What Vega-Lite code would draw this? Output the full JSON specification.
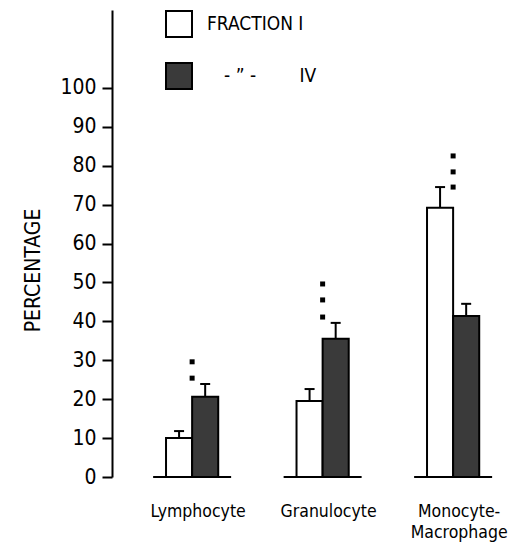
{
  "$schema": "https://vega.github.io/schema/vega-lite/v6.json",
  "width": 400,
  "height": 467,
  "autosize": {"type": "none"},
  "padding": {"left": 112, "top": 10, "right": 4, "bottom": 69},
  "background": "white",
  "config": {
    "view": {"stroke": null},
    "font": "DejaVu Sans Condensed, Liberation Sans Narrow, DejaVu Sans",
    "axis": {"grid": false}
  },
  "datasets": {
    "bars": [
      {"group": "Lymphocyte", "fraction": "I", "value": 10.0, "upper": 11.8},
      {"group": "Lymphocyte", "fraction": "IV", "value": 20.6, "upper": 23.9},
      {"group": "Granulocyte", "fraction": "I", "value": 19.5, "upper": 22.6},
      {"group": "Granulocyte", "fraction": "IV", "value": 35.5, "upper": 39.6},
      {"group": "Monocyte-Macrophage", "fraction": "I", "value": 69.2, "upper": 74.5},
      {"group": "Monocyte-Macrophage", "fraction": "IV", "value": 41.4, "upper": 44.5}
    ],
    "stars": [
      {"group": "Lymphocyte", "y": 29.6},
      {"group": "Lymphocyte", "y": 25.4},
      {"group": "Granulocyte", "y": 49.6},
      {"group": "Granulocyte", "y": 45.5},
      {"group": "Granulocyte", "y": 41.1},
      {"group": "Monocyte-Macrophage", "y": 82.5},
      {"group": "Monocyte-Macrophage", "y": 78.4},
      {"group": "Monocyte-Macrophage", "y": 74.5}
    ],
    "groups": [
      {"group": "Lymphocyte", "base": 0},
      {"group": "Granulocyte", "base": 0},
      {"group": "Monocyte-Macrophage", "base": 0}
    ]
  },
  "encoding": {
    "x": {
      "field": "group",
      "type": "nominal",
      "sort": ["Lymphocyte", "Granulocyte", "Monocyte-Macrophage"],
      "scale": {"paddingInner": 0.4, "paddingOuter": 0.2326, "align": 0.675},
      "axis": {
        "title": null,
        "domain": false,
        "ticks": false,
        "labelAngle": 0,
        "labelPadding": 25,
        "labelOffset": 6,
        "labelFontSize": 17.5,
        "labelColor": "black",
        "labelLineHeight": 21,
        "labelExpr": "datum.value == 'Monocyte-Macrophage' ? ['Monocyte-', 'Macrophage'] : datum.value"
      }
    }
  },
  "layer": [
    {
      "data": {"name": "groups"},
      "mark": {"type": "tick", "color": "black", "thickness": 2, "size": 78, "opacity": 1},
      "encoding": {
        "y": {
          "field": "base",
          "type": "quantitative",
          "scale": {"domain": [0, 120], "nice": false},
          "axis": {
            "values": [0, 10, 20, 30, 40, 50, 60, 70, 80, 90, 100],
            "domainColor": "black",
            "domainWidth": 2,
            "tickColor": "black",
            "tickWidth": 2,
            "tickSize": 10,
            "labelPadding": 6,
            "labelFontSize": 21,
            "labelColor": "black",
            "title": "PERCENTAGE",
            "titleFontSize": 21,
            "titleFontWeight": "normal",
            "titleColor": "black",
            "titlePadding": 16,
            "titleY": 260
          }
        }
      }
    },
    {
      "data": {"name": "bars"},
      "mark": {"type": "bar", "stroke": "black", "strokeWidth": 2, "opacity": 1},
      "encoding": {
        "xOffset": {
          "field": "fraction",
          "type": "nominal",
          "scale": {"paddingOuter": 0.5, "paddingInner": 0}
        },
        "y": {"field": "value", "type": "quantitative"},
        "color": {
          "field": "fraction",
          "type": "nominal",
          "scale": {"domain": ["I", "IV"], "range": ["white", "#3a3a3a"]},
          "legend": {
            "title": null,
            "orient": "none",
            "legendX": 53,
            "legendY": 0,
            "direction": "vertical",
            "symbolType": "square",
            "symbolSize": 676,
            "symbolStrokeColor": "black",
            "symbolStrokeWidth": 2,
            "symbolOpacity": 1,
            "rowPadding": 18,
            "labelOffset": 14,
            "labelFontSize": 19,
            "labelColor": "black",
            "labelExpr": "datum.label == 'I' ? 'FRACTION I' : '\u200b\u2003- \u201d -\u00a0\u00a0\u00a0\u00a0\u00a0\u00a0\u00a0\u00a0IV'"
          }
        }
      }
    },
    {
      "data": {"name": "bars"},
      "mark": {"type": "rule", "color": "black", "strokeWidth": 2},
      "encoding": {
        "xOffset": {"field": "fraction", "type": "nominal"},
        "y": {"field": "value", "type": "quantitative"},
        "y2": {"field": "upper"}
      }
    },
    {
      "data": {"name": "bars"},
      "mark": {"type": "tick", "color": "black", "thickness": 2, "size": 10, "opacity": 1},
      "encoding": {
        "xOffset": {"field": "fraction", "type": "nominal"},
        "y": {"field": "upper", "type": "quantitative"}
      }
    },
    {
      "data": {"name": "stars"},
      "mark": {"type": "point", "shape": "square", "filled": true, "color": "black", "size": 25, "opacity": 1},
      "encoding": {
        "y": {"field": "y", "type": "quantitative"}
      }
    }
  ]
}
